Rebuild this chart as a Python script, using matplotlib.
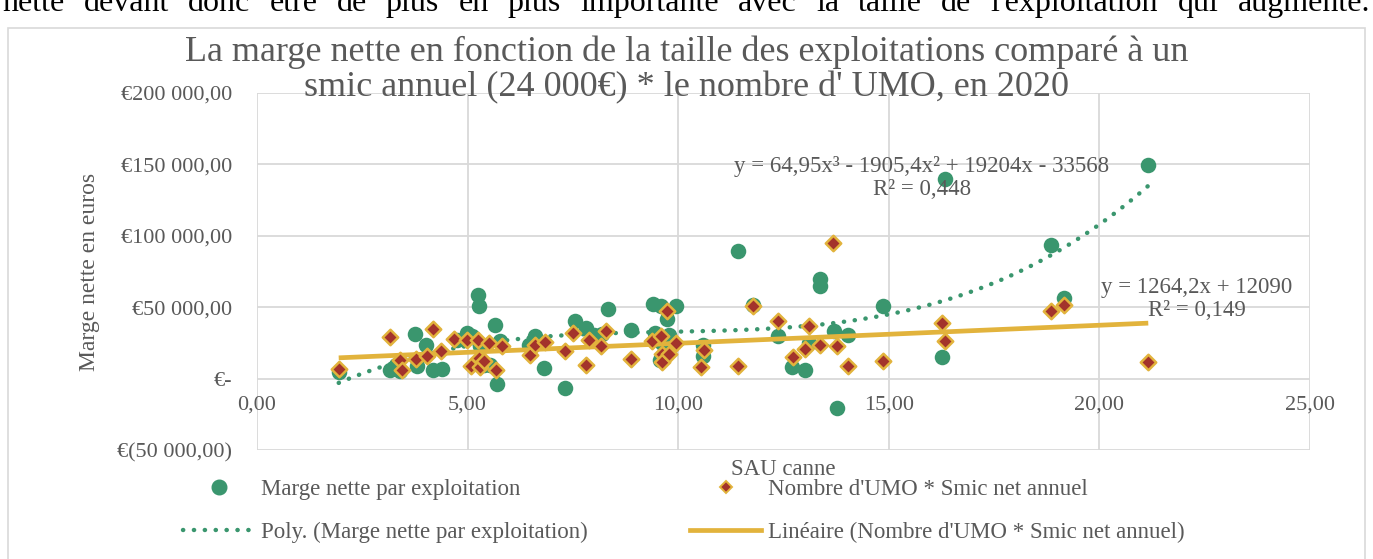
import numpy as np
import matplotlib
matplotlib.use("Agg")
from matplotlib import pyplot as plt
from matplotlib.lines import Line2D
from matplotlib.patches import Rectangle

# Marge nette par exploitation (SAU canne, euros)
marge_x = [1.94, 3.16, 3.40, 3.30, 3.76, 4.02, 3.80, 4.19, 4.39, 4.75, 4.99, 5.11,
           5.24, 5.27, 5.30, 5.38, 5.54, 5.66, 5.78, 5.70, 6.45, 6.61, 6.81, 7.32,
           7.56, 7.82, 7.99, 8.19, 8.33, 8.88, 9.40, 9.46, 9.60, 9.61, 9.57, 9.74,
           9.77, 9.95, 10.58, 10.60, 11.42, 11.77, 12.38, 12.70, 13.02, 13.10, 13.36,
           13.37, 13.69, 13.77, 14.02, 14.86, 16.26, 16.34, 18.84, 19.17, 21.16]
marge_y = [4400, 6000, 5100, 9800, 31500, 23800, 8600, 6300, 6800, 27300, 32000, 29600,
           58700, 51000, 22600, 9800, 9800, 37800, 26100, -3500, 23800, 30000, 7700, -6500,
           40100, 35400, 30800, 31200, 48700, 33800, 52400, 32000, 50600, 25000, 13300, 41700,
           30800, 51000, 16100, 23800, 89700, 51500, 29600, 8200, 5800, 25000, 64600,
           69700, 33600, -20500, 30800, 50600, 14900, 139600, 93700, 56400, 149600]

# Nombre d'UMO * Smic net annuel
umo_x = [1.94, 3.15, 3.40, 3.44, 3.78, 4.04, 4.18, 4.36, 4.67, 4.98, 5.07, 5.24,
         5.27, 5.29, 5.40, 5.50, 5.67, 5.81, 6.48, 6.60, 6.84, 7.32, 7.51, 7.81,
         7.89, 8.17, 8.28, 8.88, 9.38, 9.60, 9.61, 9.61, 9.73, 9.77, 9.95, 10.55,
         10.62, 11.42, 11.77, 12.38, 12.72, 13.02, 13.11, 13.37, 13.67, 13.77, 14.02,
         14.86, 16.26, 16.34, 18.84, 19.17, 21.16]
umo_y = [6800, 29200, 13300, 5800, 14000, 15600, 34700, 19100, 28000, 26800, 9100, 27300,
         14500, 8200, 12100, 25200, 5800, 23100, 16600, 23300, 25400, 19100, 32000, 9800,
         26800, 22600, 33100, 14000, 26100, 30100, 17500, 11700, 47500, 17500, 25000, 8400,
         20300, 8600, 51000, 40600, 14900, 20800, 36600, 23800, 94900, 23100, 8600,
         12100, 38900, 26100, 47500, 51700, 11400]

# trend line coefficients as printed on the chart
poly_coef = [64.95, -1905.4, 19204, -33568]
lin_coef = [1264.2, 12090]

y_ticks = [-50000, 0, 50000, 100000, 150000, 200000]
y_labels = ["€(50 000,00)", "€-", "€50 000,00", "€100 000,00", "€150 000,00", "€200 000,00"]
x_ticks = [0, 5, 10, 15, 20, 25]
x_labels = ["0,00", "5,00", "10,00", "15,00", "20,00", "25,00"]

green = "#3a966e"
gold = "#e2b33c"
darkred = "#a3332b"
grey = "#595959"
gridc = "#d9d9d9"

plt.rcParams["font.family"] = ["Liberation Serif", "DejaVu Serif"]

W, H = 1373, 559
fig = plt.figure(figsize=(W / 100, H / 100), dpi=100)
ax = fig.add_axes([257 / W, 1 - 450 / H, (1310 - 257) / W, (450 - 93) / H])

# chart frame
fig.patches.append(Rectangle((8 / W, -0.02), (1365 - 8) / W, (H - 28) / H + 0.02,
                             transform=fig.transFigure, fill=False, ec=gridc, lw=1.2))

ax.scatter(marge_x, marge_y, s=125, color=green, zorder=3, linewidths=0)
ax.scatter(umo_x, umo_y, s=62, marker="D", facecolor=darkred, edgecolor=gold,
           linewidths=1.8, zorder=5)

xs = np.linspace(min(marge_x), max(marge_x), 200)
ax.plot(xs, np.polyval(poly_coef, xs), color=green, lw=3.2,
        linestyle=(0, (0.05, 2.4)), dash_capstyle="round", zorder=4)
xl = np.array([min(umo_x), max(umo_x)])
ax.plot(xl, np.polyval(lin_coef, xl), color=gold, lw=3.4, zorder=4,
        solid_capstyle="butt")

ax.set_xlim(0, 25)
ax.set_ylim(-50000, 200000)
ax.set_xticks(x_ticks, x_labels)
ax.set_yticks(y_ticks, y_labels)
ax.grid(True, color=gridc, lw=1.3)
ax.set_axisbelow(True)
for s in ax.spines.values():
    s.set_visible(False)
ax.spines["bottom"].set_position(("data", 0))
ax.tick_params(length=0, labelsize=16, labelcolor=grey)
ax.tick_params(axis="x", pad=12)
ax.tick_params(axis="y", pad=18)

ax.set_ylabel("Marge nette en euros", fontsize=17, color=grey, labelpad=12)
ax.set_xlabel("SAU canne", fontsize=16.5, color=grey)
ax.xaxis.set_label_coords(0.5, -0.025)

fig.text(0.5, 1 - 70 / H, "La marge nette en fonction de la taille des exploitations comparé à un\n"
         "smic annuel (24 000€) * le nombre d' UMO, en 2020", ha="center", va="center",
         fontsize=26, color=grey, linespacing=1.08, zorder=1)

fig.text(922 / W, 1 - 178 / H, "y = 64,95x³ - 1905,4x² + 19204x - 33568\nR² = 0,448",
         ha="center", va="center", fontsize=16.5, color=grey, linespacing=1.15,
         multialignment="center")
fig.text(1197 / W, 1 - 299 / H, "y = 1264,2x + 12090\nR² = 0,149",
         ha="center", va="center", fontsize=16.5, color=grey, linespacing=1.15,
         multialignment="center")

# legend (two columns)
h_marge = Line2D([], [], ls="none", marker="o", ms=10.5, color=green)
h_umo = Line2D([], [], ls="none", marker="D", ms=6, mfc=darkred, mec=gold, mew=1.4)
h_poly = Line2D([], [], color=green, lw=3.2, ls=(0, (0.05, 2.4)), dash_capstyle="round")
h_lin = Line2D([], [], color=gold, lw=3.4)
leg_kw = dict(loc="upper left", frameon=False, fontsize=16.5, labelcolor=grey,
              handlelength=3.1, handletextpad=0.3, labelspacing=0.95,
              borderpad=0, borderaxespad=0)
fig.legend([h_marge, h_poly], ["Marge nette par exploitation",
                               "Poly. (Marge nette par exploitation)"],
           bbox_to_anchor=(183 / W, 1 - 479 / H), **leg_kw)
fig.legend([h_umo, h_lin], ["Nombre d'UMO * Smic net annuel",
                            "Linéaire (Nombre d'UMO * Smic net annuel)"],
           bbox_to_anchor=(690 / W, 1 - 479 / H), **leg_kw)

# cut-off line of the page text above the chart (justified)
words = "nette devant donc être de plus en plus importante avec la taille de l'exploitation qui augmente.".split()
renderer = fig.canvas.get_renderer()
texts = [fig.text(0, 1 - 11 / H, w, fontsize=23, color="black", va="baseline")
         for w in words]
widths = [t.get_window_extent(renderer).width for t in texts]
gap = (1370 - 2 - sum(widths)) / (len(words) - 1)
xpos = 2
for t, wd in zip(texts, widths):
    t.set_x(xpos / W)
    xpos += wd + gap

fig.savefig("out.png", dpi=100)
